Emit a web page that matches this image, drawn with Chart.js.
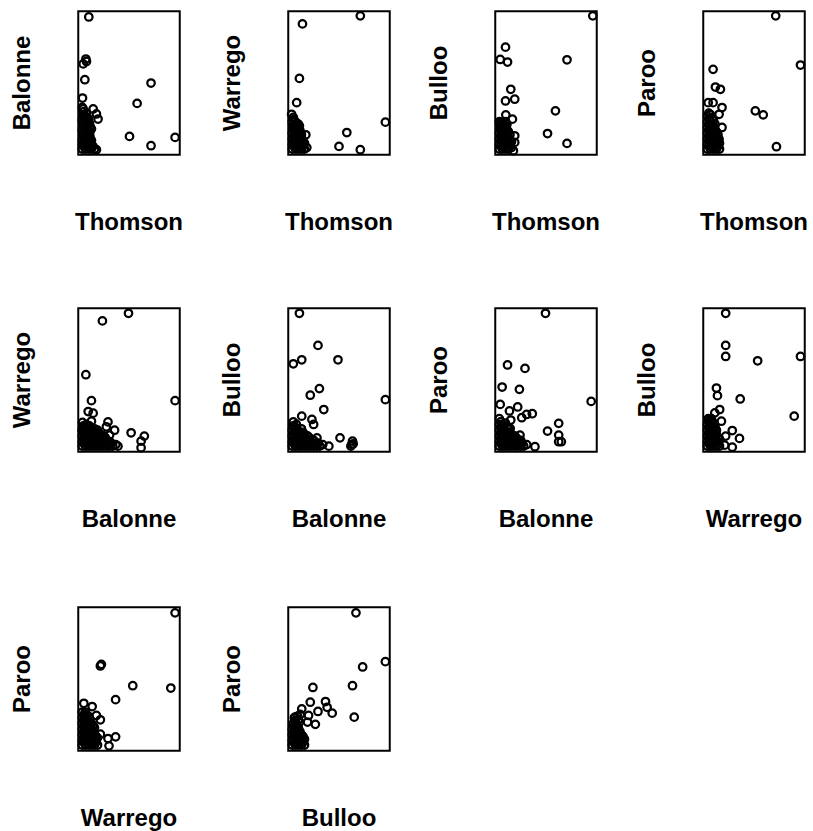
<!DOCTYPE html>
<html>
<head>
<meta charset="utf-8">
<script src="https://cdn.jsdelivr.net/npm/chart.js@4.4.1/dist/chart.umd.min.js"></script>
<style>
  body { margin: 0; background: #fff; width: 813px; height: 831px; position: relative; overflow: hidden; }
  canvas { position: absolute; }
  .lbl { position: absolute; font: bold 24px "Liberation Sans", Arial, sans-serif; color: #000; white-space: nowrap; }
  .ylbl { transform: translate(-50%, -50%) rotate(-90deg); }
  .xlbl { transform: translate(-50%, -50%); }
</style>
</head>
<body>
<script>
// values are read as percent of each panel's box (0 = left/bottom, 100 = right/top)
const xNames = ['Thomson', 'Thomson', 'Thomson', 'Thomson', 'Balonne', 'Balonne', 'Balonne', 'Warrego', 'Warrego', 'Bulloo'];
const yNames = ['Balonne', 'Warrego', 'Bulloo', 'Paroo', 'Warrego', 'Bulloo', 'Paroo', 'Bulloo', 'Paroo', 'Paroo'];

const thomsonBalonne = [
  [4,4],[7,4],[10,4],[13,4],[16,4],[4,7],[7,7],[10,8],[13,7],[4,10],[7,11],[10,11],[13,10],
  [5,14],[8,14],[11,14],[4,17],[7,18],[10,17],[13,18],[5,21],[8,21],[11,22],[4,24],[7,25],[10,25],
  [5,28],[8,29],[4,33],
  [5.5,6],[8.5,6],[11.5,6],[14.5,6],[5.5,9],[8.5,9],[11.5,9],[5.5,12.5],[8.5,12.5],[11.5,12.5],
  [5.5,16],[8.5,16],[11.5,16],[5.5,19.5],[8.5,19.5],[11.5,20],[5.5,23],[8.5,23],[5.5,26.5],[8.5,26],[5.5,30],
  [10.4,96],[7.5,66.7],[4.9,63.3],[8.1,65],[6.5,52.3],[71.7,50],[58,35.8],[4.2,39.5],[14.7,31.9],
  [17.9,28.4],[19.5,24.9],[4.9,31.9],[50.5,12.8],[71.7,6.3],[95.4,12.1],[17.9,3.5]
];
const thomsonWarrego = [
  [4,4],[7,4],[10,4],[13,4],[16,4],[4,7],[7,8],[10,7],[13,8],[16,8],[4,11],[7,11],[10,12],[13,11],
  [4,15],[7,15],[10,16],[13,14],[5,19],[8,19],[11,20],[4,23],[7,23],[5,26],
  [5.5,6],[8.5,6],[11.5,6],[14.5,6],[5.5,9.5],[8.5,9.5],[11.5,9.5],[14.5,10],[5.5,13],[8.5,13],
  [11.5,13],[5.5,17],[8.5,17],[11.5,17],[5.5,21],[8.5,21],[5.5,24.5],
  [71,96.8],[14,91.2],[11,53.2],[8.3,36.3],[3.3,28.2],[10,21.3],[17.3,13.9],[95.7,22.7],[57.7,15.5],
  [50,5.8],[71,3.5],[18.3,5]
];
const thomsonBulloo = [
  [4,4],[7,4],[10,4],[13,4],[16,5],[4,7],[7,8],[10,7],[13,8],[16,9],[4,11],[7,11],[10,12],[13,12],
  [4,15],[7,15],[10,16],[13,16],[5,19],[8,19],[11,20],[4,23],[7,22],[10,23],
  [5.5,6],[8.5,6],[11.5,6],[14.5,6],[5.5,9.5],[8.5,9.5],[11.5,9.5],[14.5,10],[5.5,13],[8.5,13],
  [11.5,13.5],[14.5,14],[5.5,17],[8.5,17],[11.5,17.5],[5.5,21],[8.5,21],[11.5,21.5],
  [96.1,96.8],[10.1,75],[4.9,66.4],[12.1,64.6],[70.7,66.2],[15.3,45.6],[10.1,37.5],[19.2,38.7],
  [59.3,30.6],[10.4,27.8],[16.9,24.8],[5.5,22.5],[51.5,14.8],[70.7,7.9],[19.2,13.2],[19.2,8.6],[17.9,2.8]
];
const thomsonParoo = [
  [4,4],[7,4],[10,4],[13,4],[16,4],[4,7],[7,8],[10,7],[13,8],[16,8],[4,11],[7,11],[10,12],[13,12],
  [4,15],[7,15],[10,16],[13,16],[4,19],[7,19],[10,20],[4,23],[7,23],[10,24],[4,27],[7,28],
  [5.5,6],[8.5,6],[11.5,6],[14.5,6],[5.5,9.5],[8.5,9.5],[11.5,9.5],[14.5,10],[5.5,13],[8.5,13],
  [11.5,13.5],[14.5,14],[5.5,17],[8.5,17],[11.5,17.5],[5.5,21],[8.5,21],[11.5,21.5],[5.5,25],[8.5,25.5],[5.5,29],
  [71.4,96.8],[95.8,62.5],[9.7,59.5],[12,47.2],[16.9,45.6],[4.9,36.3],[9.7,36.3],[18.5,32.9],
  [15.6,28.2],[51.3,30.6],[59.1,27.8],[18.5,19],[15.6,10.9],[72.1,5.6]
];
const balonneWarrego = [
  [4,4],[7,4],[10,4],[13,4],[16,4],[19,4],[22,4],[25,4],[28,4],[31,4],[34,4],[37,5],
  [4,7],[7,8],[10,7],[13,8],[16,7],[19,8],[22,7],[25,8],[28,8],[31,7],
  [4,11],[7,11],[10,12],[13,11],[16,12],[19,11],[22,12],[25,11],
  [4,15],[7,15],[10,14],[13,15],[16,16],[19,15],[5,18],[8,19],[11,18],
  [5.5,6],[8.5,6],[11.5,6],[14.5,6],[17.5,6],[20.5,6],[23.5,6],[26.5,6],[29.5,6],[32.5,6],
  [5.5,9.5],[8.5,9.5],[11.5,9.5],[14.5,9.5],[17.5,9.5],[20.5,9.5],[23.5,9.5],[26.5,10],
  [5.5,13],[8.5,13],[11.5,13],[14.5,13.5],[17.5,13.5],[20.5,13],[5.5,17],[8.5,17],[11.5,16.5],
  [49.5,96.5],[23.8,91.2],[7.5,53.7],[13,35.6],[95.4,35.6],[9.8,28],[14.7,26.9],[4.2,20.4],[13,21.3],
  [29.3,20.8],[27.7,17.4],[35.8,15],[30.9,11.6],[52.1,13.2],[65.1,10.9],[61.9,7.4],[61.9,2.8],
  [39.1,3.9],[4.2,15]
];
const balonneBulloo = [
  [4,4],[7,4],[10,4],[13,4],[16,4],[19,4],[22,4],[25,4],[28,4],[31,4],[34,5],
  [4,7],[7,8],[10,7],[13,8],[16,7],[19,8],[22,7],[25,8],
  [4,11],[7,11],[10,12],[13,11],[16,12],[19,11],[4,15],[7,15],[10,14],[13,16],[5,18],[8,19],
  [5.5,6],[8.5,6],[11.5,6],[14.5,6],[17.5,6],[20.5,6],[23.5,6],[26.5,6],[29.5,6],
  [5.5,9.5],[8.5,9.5],[11.5,9.5],[14.5,9.5],[17.5,9.5],[20.5,10],[5.5,13],[8.5,13],[11.5,13],
  [14.5,13.5],[5.5,17],[8.5,16.5],
  [11,96.5],[29.3,74.1],[5,61.3],[13.3,64.1],[49,64.1],[30.7,44],[21.7,39.4],[35,29.4],[95.7,36.3],
  [13.3,24.8],[23.3,22.5],[25,19],[5,20.8],[28.3,9.7],[51,9.7],[63.3,7.4],[61.7,3.9],[62.5,5],
  [64,5.5],[40,3.9]
];
const balonneParoo = [
  [4,4],[7,4],[10,4],[13,4],[16,4],[19,4],[22,4],[25,4],[28,4],[31,5],
  [4,7],[7,8],[10,7],[13,8],[16,7],[19,8],[22,7],[25,8],
  [4,11],[7,11],[10,12],[13,11],[16,12],[19,11],[4,15],[7,15],[10,14],[13,16],[4,19],[7,19],[10,20],[4,23],
  [5.5,6],[8.5,6],[11.5,6],[14.5,6],[17.5,6],[20.5,6],[23.5,6],[26.5,6],
  [5.5,9.5],[8.5,9.5],[11.5,9.5],[14.5,9.5],[17.5,9.5],[20.5,10],[5.5,13],[8.5,13],[11.5,13],
  [14.5,13.5],[5.5,17],[8.5,17],[11.5,17.5],[5.5,21],
  [49.5,96.5],[12.1,60.5],[29.3,58.1],[6.8,45.1],[23.8,43.5],[4.9,33],[22.1,31.2],[14,28.4],
  [26.1,23.7],[30.9,26],[36.5,26.5],[15.3,22.1],[14.7,16.3],[94.5,35.1],[62.5,19.8],[62.5,11.6],
  [65.1,7],[62.5,7],[51.5,14.4],[39.1,3.5],[24.4,11.6]
];
const warregoBulloo = [
  [4,4],[7,4],[10,4],[13,4],[16,4],[4,7],[7,8],[10,7],[13,8],[16,9],[4,11],[7,11],[10,12],[13,12],
  [4,15],[7,15],[10,16],[13,15],[4,19],[7,19],[10,20],[5,23],[8,23],
  [5.5,6],[8.5,6],[11.5,6],[14.5,6],[5.5,9.5],[8.5,9.5],[11.5,9.5],[14.5,10],[5.5,13],[8.5,13],
  [11.5,13.5],[5.5,17],[8.5,17],[11.5,17.5],[5.5,21],[8.5,21],
  [22.1,96.5],[22.1,74.1],[22.1,66.4],[53.6,63.4],[95.8,66.4],[13,44.4],[14,39.1],[36.4,36.8],
  [16.2,29.4],[11.4,27.1],[89.6,24.8],[4.9,22.5],[17.9,21.3],[28.6,14.8],[22.1,10.9],[35.7,9.3],
  [21.1,4.6],[28.6,3.2]
];
const warregoParoo = [
  [4,4],[7,4],[10,4],[13,4],[16,4],[19,4],[4,7],[7,8],[10,7],[13,8],[16,8],[19,9],
  [4,11],[7,11],[10,12],[13,11],[16,12],[4,15],[7,15],[10,16],[13,15],[16,16],
  [4,19],[7,19],[10,20],[13,19],[4,23],[7,23],[10,24],[4,27],[7,27],
  [5.5,6],[8.5,6],[11.5,6],[14.5,6],[17.5,6],[5.5,9.5],[8.5,9.5],[11.5,9.5],[14.5,9.5],[17.5,10],
  [5.5,13],[8.5,13],[11.5,13.5],[14.5,14],[5.5,17],[8.5,17],[11.5,17.5],[14.5,17.5],
  [5.5,21],[8.5,21],[11.5,22],[5.5,25],[8.5,25],
  [95.4,96.1],[21.8,59.1],[22.8,60.2],[53.7,45.3],[91.2,43.7],[36.8,35.6],[5.5,33.1],[13.7,30.8],
  [17.9,24.6],[21.8,21.6],[21.8,11.5],[29.3,8.5],[36.8,9.7],[30.3,3.4],[14.7,13.1]
];
const bullooParoo = [
  [4,4],[7,4],[10,4],[13,4],[16,4],[4,7],[7,8],[10,7],[13,8],[16,8],[4,11],[7,11],[10,12],[13,11],
  [4,15],[7,15],[10,16],[5,19],[8,19],[11,20],[6,23],[9,24],
  [5.5,6],[8.5,6],[11.5,6],[14.5,6],[5.5,9.5],[8.5,9.5],[11.5,9.5],[14.5,10],[5.5,13],[8.5,13],
  [11.5,13.5],[5.5,17],[8.5,17],[7,21],[10,21.5],
  [66.7,96.1],[95.7,62.1],[73.3,58.4],[63.3,45.3],[24.3,44.1],[21.7,33.8],[36.7,34.3],[38.3,30.3],
  [43.3,26.2],[29.3,27.4],[13.3,29.2],[11.7,25.3],[20,24.6],[6.7,23.4],[26.7,18.4],[65,23.4],[19,20]
];

const panelData = [thomsonBalonne, thomsonWarrego, thomsonBulloo, thomsonParoo, balonneWarrego,
  balonneBulloo, balonneParoo, warregoBulloo, warregoParoo, bullooParoo];

const boxLefts = [78, 288, 495, 703];
const boxTops = [11, 308, 607];
const boxW = 102, boxH = 144, pad = 6;

// draws the box around the plot region
const framePlugin = {
  id: 'frame',
  afterDraw(chart) {
    const a = chart.chartArea;
    const ctx = chart.ctx;
    ctx.save();
    ctx.strokeStyle = '#000';
    ctx.lineWidth = 2;
    ctx.strokeRect(a.left, a.top, a.right - a.left, a.bottom - a.top);
    ctx.restore();
  }
};

panelData.forEach((pts, i) => {
  const col = i % 4, row = Math.floor(i / 4);
  const left = boxLefts[col], top = boxTops[row];

  const canvas = document.createElement('canvas');
  canvas.width = boxW + 2 * pad;
  canvas.height = boxH + 2 * pad;
  canvas.style.left = (left - pad) + 'px';
  canvas.style.top = (top - pad) + 'px';
  document.body.appendChild(canvas);

  new Chart(canvas.getContext('2d'), {
    type: 'scatter',
    data: {
      datasets: [{
        data: pts.map(p => ({ x: p[0], y: p[1] })),
        pointStyle: 'circle',
        pointRadius: 3.75,
        pointBorderWidth: 2.25,
        pointBorderColor: '#000',
        pointBackgroundColor: 'rgba(0,0,0,0)',
        clip: false
      }]
    },
    options: {
      responsive: false,
      animation: false,
      events: [],
      layout: { padding: pad },
      plugins: { legend: { display: false }, tooltip: { enabled: false } },
      scales: {
        x: { type: 'linear', min: 0, max: 100, display: false },
        y: { type: 'linear', min: 0, max: 100, display: false }
      }
    },
    plugins: [framePlugin]
  });

  const yl = document.createElement('div');
  yl.className = 'lbl ylbl';
  yl.textContent = yNames[i];
  yl.style.left = (left - 56) + 'px';
  yl.style.top = (top + boxH / 2) + 'px';
  document.body.appendChild(yl);

  const xl = document.createElement('div');
  xl.className = 'lbl xlbl';
  xl.textContent = xNames[i];
  xl.style.left = (left + boxW / 2) + 'px';
  xl.style.top = (top + boxH + 67) + 'px';
  document.body.appendChild(xl);
});
</script>
</body>
</html>
